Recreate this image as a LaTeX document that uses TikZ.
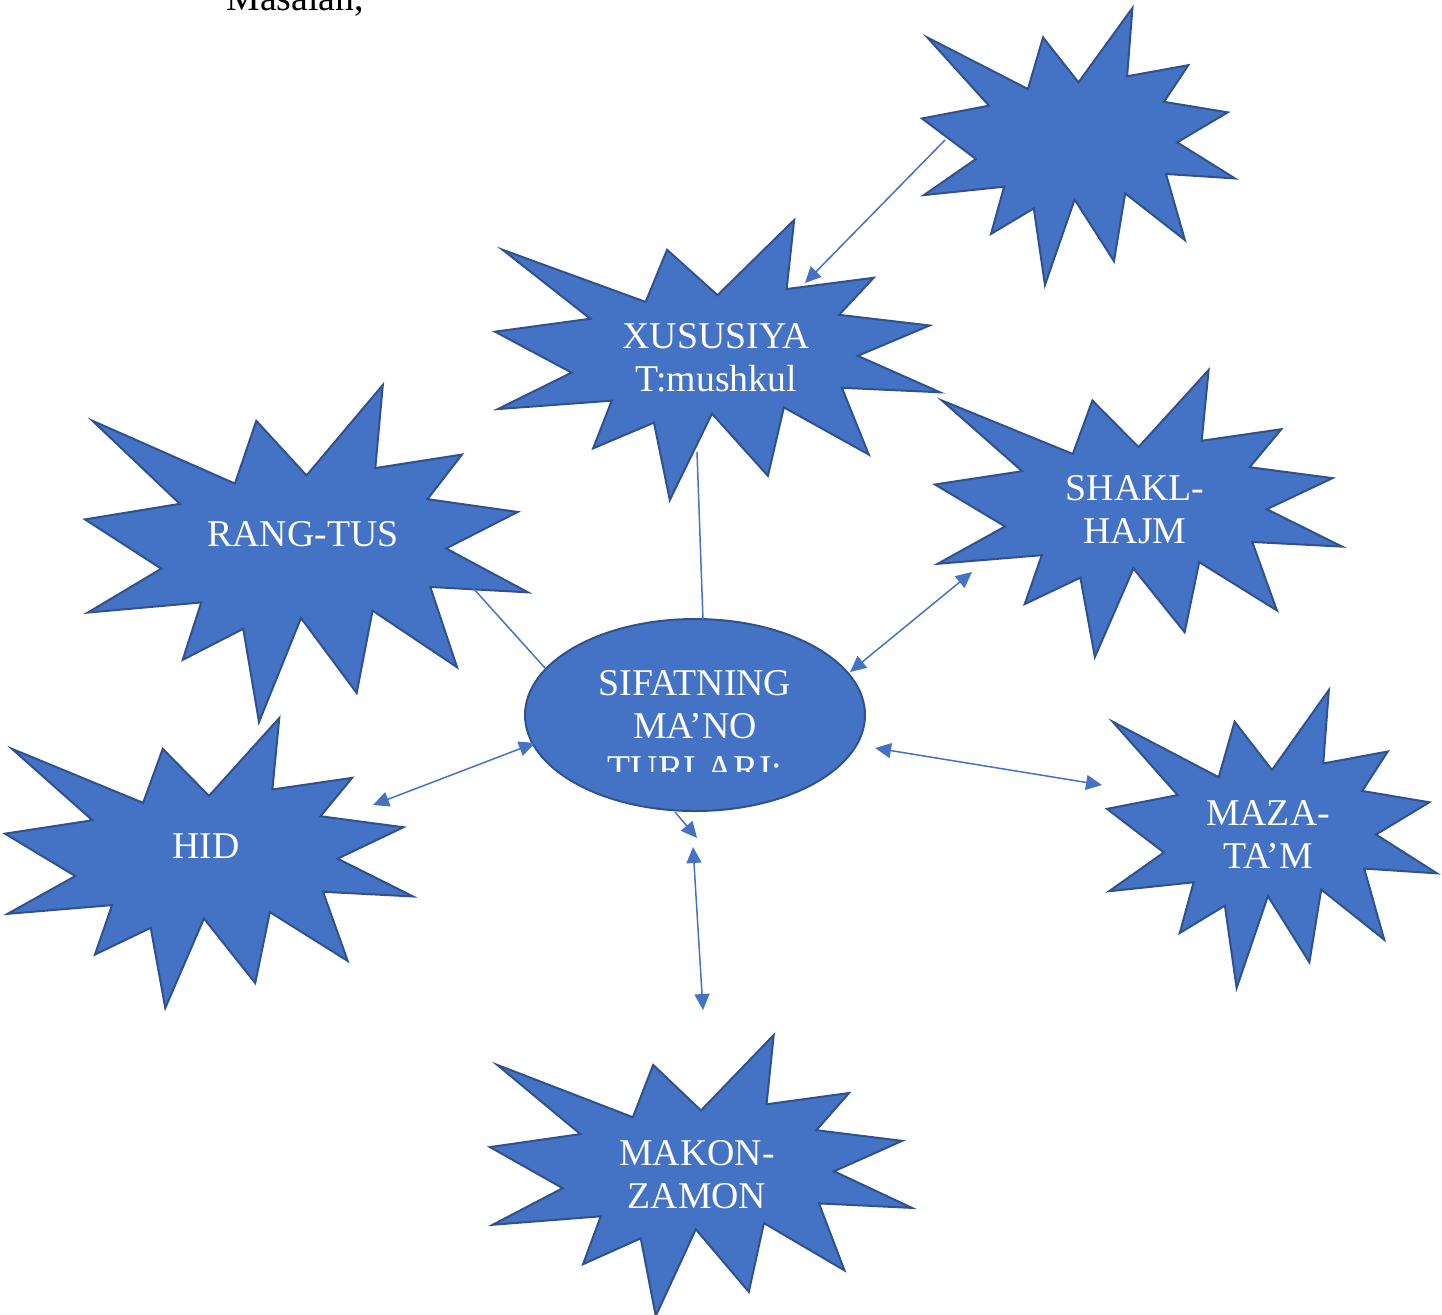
\documentclass[tikz,border=0pt]{standalone}
\usepackage{fontspec}
\setmainfont{Liberation Serif}
\usepackage{tikz}
\usetikzlibrary{shapes.geometric,arrows.meta}
\usepackage{xcolor}
\definecolor{wordblue}{HTML}{4472C4}
\definecolor{wordedge}{HTML}{2F528F}

% explosion shape in a box: left, top, width, height
\newcommand{\burst}[4]{%
  \begin{scope}[shift={(#1,#2)},xscale=#3/100,yscale=#4/100]
    \draw[burst] (50,26.85) -- (67.23,0) -- (65.53,24.65) -- (85.09,20.63)
      -- (77.32,33.87) -- (97.67,37.67) -- (81.51,48.50) -- (100,61.53)
      -- (77.95,59.92) -- (84.00,83.77) -- (64.91,66.93) -- (61.33,91.38)
      -- (48.76,69.14) -- (39.28,100) -- (35.72,72.35) -- (22.05,81.56)
      -- (26.24,64.52) -- (0.63,67.53) -- (17.23,54.51) -- (0,39.88)
      -- (21.42,35.26) -- (1.71,10.63) -- (33.85,29.26) -- (38.67,10.63) -- cycle;
  \end{scope}}

\begin{document}
\begin{tikzpicture}[x=0.5pt,y=-0.5pt]
\tikzset{
    burst/.style={draw=wordedge, fill=wordblue, line width=1pt, line join=miter},
    lbl/.style={text=white, align=center, inner sep=0pt,
                font=\fontsize{18.9}{21.5}\selectfont},
    link/.style={draw=wordblue, line width=0.75pt},
    onearrow/.style={-{Triangle[length=8pt,width=7.5pt]}},
    twoarrow/.style={{Triangle[length=8pt,width=7.5pt]}-{Triangle[length=8pt,width=7.5pt]}}
}
\useasboundingbox (0,0) rectangle (1442,1314);

\node[anchor=base west, inner sep=0pt, font=\fontsize{18.9}{21.5}\selectfont] (masalan) at (226,10) {Masalan,};

\burst{922}{8}{313}{277}
\burst{495}{220}{445}{280}
\burst{85}{385}{443}{337}
\burst{935}{370}{407}{287}
\burst{5}{718}{408}{290}
\burst{1107}{690}{330}{298}
\burst{490}{1035}{422}{281}

\node[ellipse, burst, minimum width=170pt, minimum height=96pt] (sifat) at (695,715) {};
\begin{scope}
\clip (560,640) rectangle (830,771);
\node[lbl] (sifattxt) at (695,726) {SIFATNING\\MA’NO\\TURLARI:};
\end{scope}

\node[lbl] (xus) at (716,358) {XUSUSIYA\\T:mushkul};
\node[lbl] (rang) at (303,534) {RANG-TUS};
\node[lbl] (shakl) at (1135,510) {SHAKL-\\HAJM};
\node[lbl] (hid) at (206,846) {HID};
\node[lbl] (maza) at (1268,835) {MAZA-\\TA’M};
\node[lbl] (makon) at (697,1175) {MAKON-\\ZAMON};

\coordinate (top-a) at (945,140);
\coordinate (xus-a) at (805,283);
\coordinate (xus-b) at (697,452);
\coordinate (sif-n) at (703,620);
\coordinate (rang-a) at (473,588);
\coordinate (sif-nw) at (545,668);
\coordinate (shakl-a) at (972,572);
\coordinate (sif-ne) at (850,672);
\coordinate (maza-a) at (1102,785);
\coordinate (sif-e) at (875,748);
\coordinate (hid-a) at (373,805);
\coordinate (sif-w) at (535,743);
\coordinate (sif-s) at (675,812);
\coordinate (mid-a) at (697,838);
\coordinate (mid-b) at (693,847);
\coordinate (makon-a) at (703,1010);

\draw [link, onearrow] (top-a) -- (xus-a);
\draw [link] (xus-b) -- (sif-n);
\draw [link] (rang-a) -- (sif-nw);
\draw [link, twoarrow] (shakl-a) -- (sif-ne);
\draw [link, twoarrow] (sif-e) -- (maza-a);
\draw [link, twoarrow] (hid-a) -- (sif-w);
\draw [link, onearrow] (sif-s) -- (mid-a);
\draw [link, twoarrow] (mid-b) -- (makon-a);
\end{tikzpicture}
\end{document}
